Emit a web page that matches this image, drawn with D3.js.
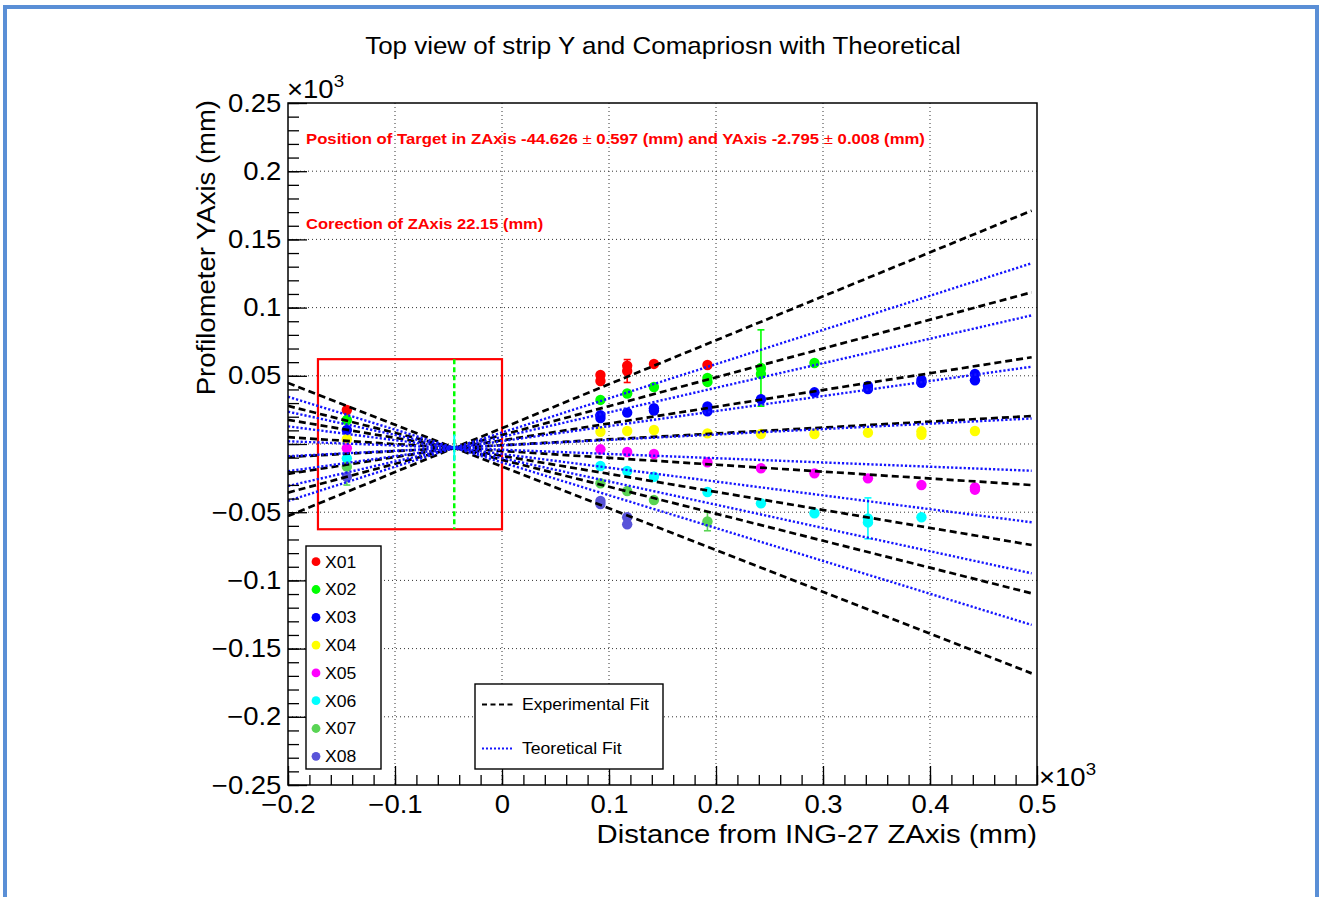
<!DOCTYPE html>
<html>
<head>
<meta charset="utf-8">
<script src="https://cdn.jsdelivr.net/npm/d3@7"></script>
<style>
  html, body { margin: 0; padding: 0; background: #fff; }
  svg { display: block; }
</style>
</head>
<body>
<svg id="chart" width="1322" height="897"></svg>
<script>
// ---- Profilometer measurements, in units of 10^3 mm ----
// each point: [z, y] or [z, y, err] or [z, y, errDown, errUp]
const seriesNames  = ["X01", "X02", "X03", "X04", "X05", "X06", "X07", "X08"];
const seriesColors = ["#ff0000", "#00ff00", "#0000ff", "#ffff00", "#ff00ff", "#00ffff", "#59d454", "#5954d9"];

const X01 = [[-0.145, 0.0249], [0.092, 0.0506], [0.092, 0.0462], [0.117, 0.0574], [0.117, 0.0535, 0.0084],
             [0.142, 0.0587], [0.192, 0.0579]];
const X02 = [[-0.145, 0.0176], [0.092, 0.0323], [0.117, 0.0370], [0.142, 0.0418], [0.192, 0.0484], [0.192, 0.0455],
             [0.242, 0.0513], [0.242, 0.0557, 0.0280], [0.292, 0.0594]];
const X03 = [[-0.145, 0.0103], [0.092, 0.0212], [0.092, 0.0190], [0.117, 0.0230], [0.142, 0.0262], [0.142, 0.0245],
             [0.192, 0.0276], [0.192, 0.0240], [0.242, 0.0328], [0.292, 0.0379], [0.342, 0.0425], [0.342, 0.0403],
             [0.392, 0.0469], [0.392, 0.0449], [0.442, 0.0513], [0.442, 0.0467]];
const X04 = [[-0.145, 0.0035], [0.092, 0.0090], [0.117, 0.0095], [0.142, 0.0103], [0.192, 0.0078], [0.242, 0.0073],
             [0.292, 0.0073], [0.342, 0.0083], [0.392, 0.0093], [0.392, 0.0068], [0.442, 0.0095]];
const X05 = [[-0.145, -0.0031], [0.092, -0.0039], [0.117, -0.0059], [0.142, -0.0073], [0.192, -0.0134], [0.242, -0.0178],
             [0.292, -0.0215], [0.342, -0.0252], [0.392, -0.0301], [0.442, -0.0318], [0.442, -0.0335]];
const X06 = [[-0.145, -0.0105], [0.092, -0.0161], [0.117, -0.0198], [0.142, -0.0240], [0.192, -0.0352], [0.242, -0.0435],
             [0.292, -0.0508], [0.342, -0.0545, 0.0150], [0.342, -0.0575], [0.392, -0.0537]];
const X07 = [[-0.145, -0.0166, 0.0135, 0.0430], [0.092, -0.0288], [0.117, -0.0345], [0.142, -0.0411],
             [0.192, -0.0568, 0.0068]];
const X08 = [[-0.145, -0.0240], [0.092, -0.0418], [0.092, -0.0440], [0.117, -0.0537], [0.117, -0.0589]];
const seriesData = [X01, X02, X03, X04, X05, X06, X07, X08];

// ---- straight-line fits y = offset + slope * z (one per strip) ----
const expSlope   = [0.3222, 0.2113, 0.1230, 0.0432, -0.0505, -0.1320, -0.1977, -0.3064];
const expOffset  = [0.0116, 0.0066, 0.0027, -0.0009, -0.0051, -0.0087, -0.0116, -0.0165];
const theoSlope  = [0.2507, 0.1800, 0.1102, 0.0398, -0.0311, -0.1012, -0.1705, -0.2407];
const theoOffset = [0.0084, 0.0052, 0.0021, -0.0010, -0.0042, -0.0073, -0.0104, -0.0135];
const fitRange   = [-0.2, 0.495];

// ---- target position (mm) ----
const targetZmm = -44.626, targetZerr = 0.597;
const targetYmm = -2.795,  targetYerr = 0.008;
const zCorrection = 22.15;
const targetBarHalf = 0.0098;           // vertical marker at the target, 10^3 mm
const boxZ = [-0.172, 0.0];             // highlighted region
const boxY = [-0.0625, 0.0622];

// ---- axes ----
const xTicks = [-0.2, -0.1, 0, 0.1, 0.2, 0.3, 0.4, 0.5];
const xTickLabels = ["\u22120.2", "\u22120.1", "0", "0.1", "0.2", "0.3", "0.4", "0.5"];
const yTicks = [0.25, 0.2, 0.15, 0.1, 0.05, 0, -0.05, -0.1, -0.15, -0.2, -0.25];
const yTickLabels = ["0.25", "0.2", "0.15", "0.1", "0.05", "", "\u22120.05", "\u22120.1", "\u22120.15", "\u22120.2", "\u22120.25"];
const xMinor = d3.range(-10, 26).map(i => +(i * 0.02).toFixed(3));
const yMinor = d3.range(-25, 26).map(i => +(i * 0.01).toFixed(3));

const FONT = '"Liberation Sans", Arial, Helvetica, sans-serif';
const SX = 1.1;   // horizontal stretch of the Helvetica-style glyphs

const svg = d3.select("#chart").attr("font-family", FONT);
svg.append("rect").attr("width", 1322).attr("height", 897).attr("fill", "#fff");
// window frame
svg.append("path").attr("d", "M5,900 V7 H1317 V900")
   .attr("fill", "none").attr("stroke", "#5a8fd6").attr("stroke-width", 4);

const x = d3.scaleLinear().domain([-0.2, 0.5]).range([288, 1037]);
const y = d3.scaleLinear().domain([-0.25, 0.25]).range([785, 103]);

function stretchedText(parent, px, py, str, size, anchor, extra) {
  const g = parent.append("g").attr("transform", `translate(${px},${py}) scale(${SX},1)`);
  const t = g.append("text").attr("font-size", size).attr("text-anchor", anchor || "start").attr("fill", "#000");
  if (str !== null) t.text(str);
  if (extra) extra(t);
  return t;
}

// grid
const grid = svg.append("g").attr("stroke", "#333").attr("stroke-width", 1).attr("stroke-dasharray", "1,3");
grid.append("g").selectAll("line").data(xTicks.slice(1, -1)).join("line")
  .attr("x1", d => x(d)).attr("x2", d => x(d)).attr("y1", y(0.25)).attr("y2", y(-0.25));
grid.append("g").selectAll("line").data(yTicks.slice(1, -1)).join("line")
  .attr("y1", d => y(d)).attr("y2", d => y(d)).attr("x1", x(-0.2)).attr("x2", x(0.5));

// plotting area clip
svg.append("clipPath").attr("id", "frameClip").append("rect")
  .attr("x", x(-0.2)).attr("y", y(0.25)).attr("width", x(0.5) - x(-0.2)).attr("height", y(-0.25) - y(0.25));
const plot = svg.append("g").attr("clip-path", "url(#frameClip)");

// highlighted region and target line
plot.append("rect")
  .attr("x", x(boxZ[0])).attr("y", y(boxY[1]))
  .attr("width", x(boxZ[1]) - x(boxZ[0])).attr("height", y(boxY[0]) - y(boxY[1]))
  .attr("fill", "none").attr("stroke", "#ff0000").attr("stroke-width", 2.2);
plot.append("line")
  .attr("x1", x(targetZmm / 1000)).attr("x2", x(targetZmm / 1000))
  .attr("y1", y(boxY[1])).attr("y2", y(boxY[0]))
  .attr("stroke", "#00ff00").attr("stroke-width", 2.5).attr("stroke-dasharray", "5,3");

// error bars
const errG = plot.append("g");
seriesData.forEach((pts, si) => {
  pts.filter(p => p.length > 2).forEach(p => {
    const lo = p[1] - p[2];
    const hi = p[1] + (p.length > 3 ? p[3] : p[2]);
    const cx = x(p[0]);
    const g = errG.append("g").attr("stroke", seriesColors[si]).attr("stroke-width", 1.6);
    g.append("line").attr("x1", cx).attr("x2", cx).attr("y1", y(lo)).attr("y2", y(hi));
    g.append("line").attr("x1", cx - 3.5).attr("x2", cx + 3.5).attr("y1", y(lo)).attr("y2", y(lo));
    g.append("line").attr("x1", cx - 3.5).attr("x2", cx + 3.5).attr("y1", y(hi)).attr("y2", y(hi));
  });
});

// markers
seriesData.forEach((pts, si) => {
  plot.append("g").selectAll("circle").data(pts).join("circle")
    .attr("cx", d => x(d[0])).attr("cy", d => y(d[1])).attr("r", 5.2)
    .attr("fill", seriesColors[si]);
});

// fit lines
const fitLine = d3.line().x(d => x(d[0])).y(d => y(d[1]));
const fitPts = (m, b) => fitRange.map(z => [z, b + m * z]);
plot.append("g").selectAll("path").data(expSlope).join("path")
  .attr("d", (m, i) => fitLine(fitPts(m, expOffset[i])))
  .attr("fill", "none").attr("stroke", "#000").attr("stroke-width", 2.7).attr("stroke-dasharray", "7,4");
plot.append("g").selectAll("path").data(theoSlope).join("path")
  .attr("d", (m, i) => fitLine(fitPts(m, theoOffset[i])))
  .attr("fill", "none").attr("stroke", "#1515ff").attr("stroke-width", 2.4).attr("stroke-dasharray", "2.2,2");

// target marker
plot.append("line")
  .attr("x1", x(targetZmm / 1000)).attr("x2", x(targetZmm / 1000))
  .attr("y1", y(targetYmm / 1000 - targetBarHalf)).attr("y2", y(targetYmm / 1000 + targetBarHalf))
  .attr("stroke", "#00ffff").attr("stroke-width", 2);

// frame
svg.append("rect")
  .attr("x", x(-0.2)).attr("y", y(0.25)).attr("width", x(0.5) - x(-0.2)).attr("height", y(-0.25) - y(0.25))
  .attr("fill", "none").attr("stroke", "#000").attr("stroke-width", 1.5);

// axes (ticks pointing inward)
function styleAxis(g) {
  g.select(".domain").remove();
  g.selectAll("line").attr("stroke", "#000").attr("stroke-width", 1.3);
}
svg.append("g").attr("transform", `translate(0,${y(-0.25)})`)
  .call(d3.axisBottom(x).tickValues(xMinor).tickSize(-10).tickFormat(""))
  .call(styleAxis);
svg.append("g").attr("transform", `translate(${x(-0.2)},0)`)
  .call(d3.axisLeft(y).tickValues(yMinor).tickSize(-11).tickFormat(""))
  .call(styleAxis);
const xAxis = svg.append("g").attr("transform", `translate(0,${y(-0.25)})`)
  .call(d3.axisBottom(x).tickValues(xTicks).tickSize(-19).tickFormat((d, i) => xTickLabels[i]))
  .call(styleAxis);
xAxis.selectAll("text").attr("y", 28).attr("dy", "0").attr("font-size", 25).attr("font-family", FONT)
  .attr("fill", "#000").attr("transform", `scale(${SX},1)`);
const yAxis = svg.append("g").attr("transform", `translate(${x(-0.2)},0)`)
  .call(d3.axisLeft(y).tickValues(yTicks).tickSize(-19).tickPadding(6).tickFormat((d, i) => yTickLabels[i]))
  .call(styleAxis);
yAxis.selectAll("text").attr("dy", "0.32em").attr("font-size", 25).attr("font-family", FONT)
  .attr("fill", "#000").attr("transform", `scale(${SX},1)`);

// exponent labels
function powerLabel(px, py) {
  stretchedText(svg, px, py, null, 25, "start", t => {
    t.append("tspan").text("\u00d710");
    t.append("tspan").attr("font-size", 17).attr("dy", -11).text("3");
  });
}
powerLabel(287, 98);
powerLabel(1039, 786);

// titles
stretchedText(svg, 663, 54, "Top view of strip Y and Comapriosn with Theoretical", 23.6, "middle");
stretchedText(svg, 1037, 843, "Distance from ING-27 ZAxis (mm)", 26.6, "end");
svg.append("g").attr("transform", `translate(215,100) rotate(-90) scale(${SX},1)`)
  .append("text").attr("font-size", 25).attr("text-anchor", "end").attr("fill", "#000")
  .text("Profilometer YAxis (mm)");

// annotations
stretchedText(svg, 306, 143.5, null, 15.2, "start", t => {
  t.attr("fill", "#ff0000").attr("font-weight", "bold");
  t.append("tspan").text(`Position of Target in ZAxis ${targetZmm.toFixed(3)} `);
  t.append("tspan").attr("font-weight", "normal").text("\u00b1");
  t.append("tspan").text(` ${targetZerr.toFixed(3)} (mm) and YAxis ${targetYmm.toFixed(3)} `);
  t.append("tspan").attr("font-weight", "normal").text("\u00b1");
  t.append("tspan").text(` ${targetYerr.toFixed(3)} (mm)`);
});
stretchedText(svg, 306, 229, `Corection of ZAxis ${zCorrection.toFixed(2)} (mm)`, 15, "start",
  t => t.attr("fill", "#ff0000").attr("font-weight", "bold"));

// legend: strips
const leg1 = svg.append("g");
leg1.append("rect").attr("x", 306).attr("y", 546).attr("width", 75).attr("height", 223)
  .attr("fill", "#fff").attr("stroke", "#000").attr("stroke-width", 1.4);
seriesNames.forEach((name, i) => {
  const cy = 561.7 + i * 27.8;
  leg1.append("circle").attr("cx", 316).attr("cy", cy).attr("r", 4.4).attr("fill", seriesColors[i]);
  stretchedText(leg1, 325, cy + 5.8, name, 16, "start");
});

// legend: fits
const leg2 = svg.append("g");
leg2.append("rect").attr("x", 475).attr("y", 684).attr("width", 188).attr("height", 85)
  .attr("fill", "#fff").attr("stroke", "#000").attr("stroke-width", 1.4);
leg2.append("line").attr("x1", 482).attr("x2", 514).attr("y1", 704.5).attr("y2", 704.5)
  .attr("stroke", "#000").attr("stroke-width", 2.2).attr("stroke-dasharray", "5,3.5");
leg2.append("line").attr("x1", 482).attr("x2", 514).attr("y1", 748.5).attr("y2", 748.5)
  .attr("stroke", "#1515ff").attr("stroke-width", 2).attr("stroke-dasharray", "2,2");
stretchedText(leg2, 522, 710, "Experimental Fit", 16, "start");
stretchedText(leg2, 522, 754, "Teoretical Fit", 16, "start");
</script>
</body>
</html>
